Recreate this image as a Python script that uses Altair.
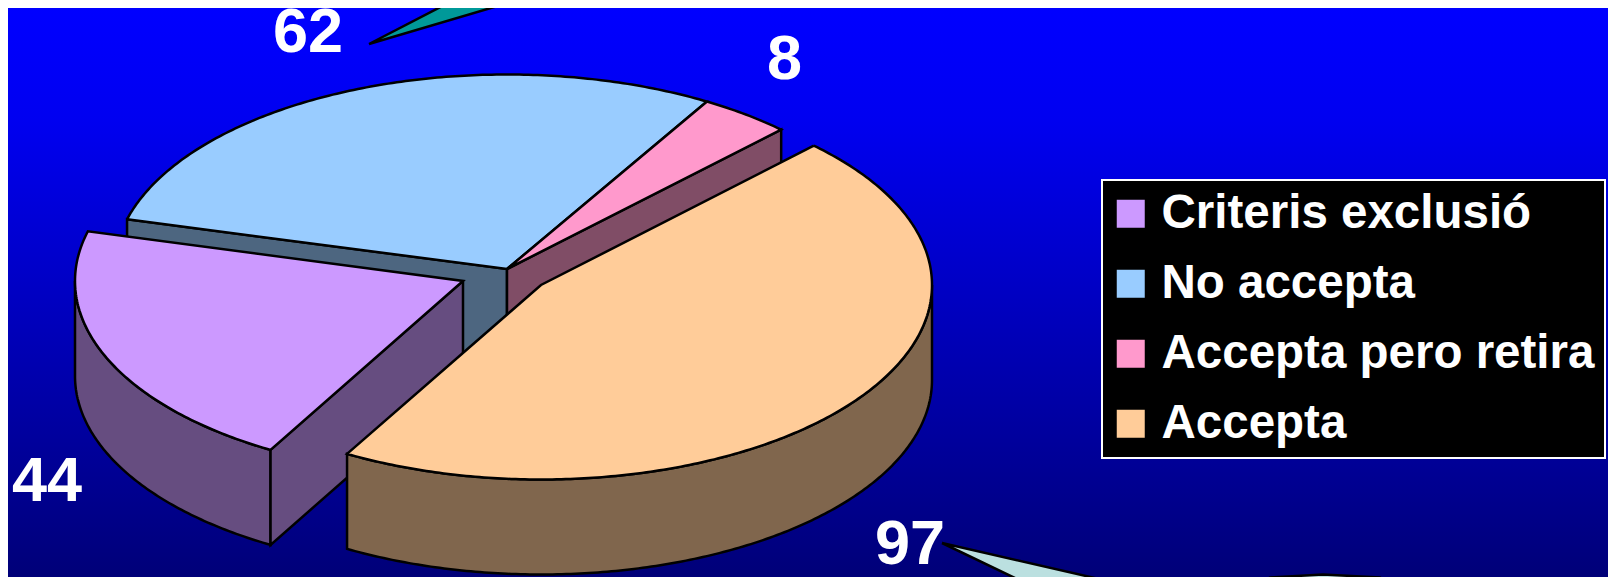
import math
import altair as alt
import pandas as pd

# ---- data ----
labels = ["Criteris exclusió", "No accepta", "Accepta pero retira", "Accepta"]
values = [44, 62, 8, 97]
top_colors = ["#CC99FF", "#99CCFF", "#FF99CC", "#FFCC99"]
side_colors = ["#664D80", "#4D6680", "#804D66", "#80664D"]
centers = [(463, 281), (507, 269), (507, 269), (541, 285)]
x_radii = [388, 393, 393, 391]
value_labels = [("62", 273, 52), ("8", 767, 79), ("44", 12, 501), ("97", 875, 564)]

# ---- layout ----
W, H = 1608, 577
RY, DEPTH = 194.5, 95
START = 45.76   # parametric angle where "Accepta" starts, clockwise order
total = sum(values)

# slices go clockwise: Accepta, Criteris exclusió, No accepta, Accepta pero retira
order = [3, 0, 1, 2]
spans = {}
a = START
for i in order:
    span = values[i] / total * 360
    spans[i] = (a, a - span)
    a -= span


def pt(i, ang, drop=0):
    cx, cy = centers[i]
    r = math.radians(ang)
    return cx + x_radii[i] * math.cos(r), cy - RY * math.sin(r) + drop


def arc(i, a0, a1, drop=0):
    n = max(2, int(abs(a1 - a0) * 1.5))
    return [pt(i, a0 + (a1 - a0) * k / n, drop) for k in range(n + 1)]


def frame(points, label=None):
    pts = list(points) + [points[0]]
    d = pd.DataFrame(pts, columns=["x", "y"])
    d["k"] = range(len(d))
    if label is not None:
        d["label"] = label
    return d


xs = alt.X("x:Q", scale=alt.Scale(domain=[8, W], nice=False, zero=False), axis=None)
ys = alt.Y("y:Q", scale=alt.Scale(domain=[H, 8], nice=False, zero=False), axis=None)
fill_scale = alt.Scale(domain=labels, range=top_colors)
legend = alt.Legend(
    title=None, orient="none", legendX=1094, legendY=172,
    symbolType="square", symbolSize=784, symbolStrokeWidth=0, symbolOffset=-5,
    labelFont="Liberation Sans", labelFontSize=47.5, labelFontWeight="bold",
    labelColor="white", rowPadding=21, padding=10, labelOffset=7, labelLimit=600,
    fillColor="black", strokeColor="white",
)


def poly(points, fill):
    return alt.Chart(frame(points)).mark_line(
        fill=fill, stroke="black", strokeWidth=2.5, strokeJoin="miter", clip=True
    ).encode(x=xs, y=ys, order="k:Q")


def top(i):
    a0, a1 = spans[i]
    points = [pt(i, a0)] + arc(i, a0, a1) + [centers[i]]
    return alt.Chart(frame(points, labels[i])).mark_line(
        stroke="black", strokeWidth=2.5, strokeJoin="miter", clip=True
    ).encode(
        x=xs, y=ys, order="k:Q",
        fill=alt.Fill("label:N", scale=fill_scale, legend=legend),
    )


def cut_face(i, ang):
    c = centers[i]
    e = pt(i, ang)
    return poly([c, e, (e[0], e[1] + DEPTH), (c[0], c[1] + DEPTH)], side_colors[i])


def rim(i, a0, a1):
    upper = arc(i, a0, a1)
    lower = arc(i, a1, a0, DEPTH)
    return poly(upper + lower, side_colors[i])


# background
bg_df = pd.DataFrame({"x": [8], "x2": [W], "y": [8], "y2": [H]})
bg = alt.Chart(bg_df).mark_rect(
    color=alt.Gradient(
        gradient="linear", x1=0, y1=0, x2=0, y2=1,
        stops=[alt.GradientStop(offset=0, color="#0000FF"),
               alt.GradientStop(offset=0.2, color="#0000F0"),
               alt.GradientStop(offset=1, color="#000078")],
    )
).encode(x=xs, x2="x2:Q", y=ys, y2="y2:Q")

# callouts
teal = poly([(369, 44), (454, 0), (518, 0)], "#009999")
pale = poly([(942, 543), (1040, 590), (1147, 590)], "#BBE0E0")
oval = poly([(1250, 590), (1270, 577.5), (1323, 574.5), (1380, 577.5), (1400, 590)], "#BBE0E0")

text_df = pd.DataFrame(value_labels, columns=["t", "x", "y"])
texts = alt.Chart(text_df).mark_text(
    font="Liberation Sans", fontWeight="bold", fontSize=63, color="white",
    align="left", baseline="alphabetic",
).encode(x=xs, y=ys, text="t:N")

p_a0 = spans[0][0]
o_a1 = spans[3][1]

chart = alt.layer(
    bg,
    teal, pale, oval,
    cut_face(1, spans[1][0]),
    cut_face(2, spans[2][1]),
    top(1), top(2),
    rim(0, p_a0, -180),
    cut_face(0, p_a0),
    top(0),
    rim(3, 0, o_a1),
    top(3),
    texts,
).properties(
    width=W - 8, height=H - 8, padding=0,
    autosize=alt.AutoSizeParams(type="none"),
).configure_view(stroke=None).configure_legend(strokeWidth=2)

chart.save("out.html", embed_options={"renderer": "svg", "actions": False})
